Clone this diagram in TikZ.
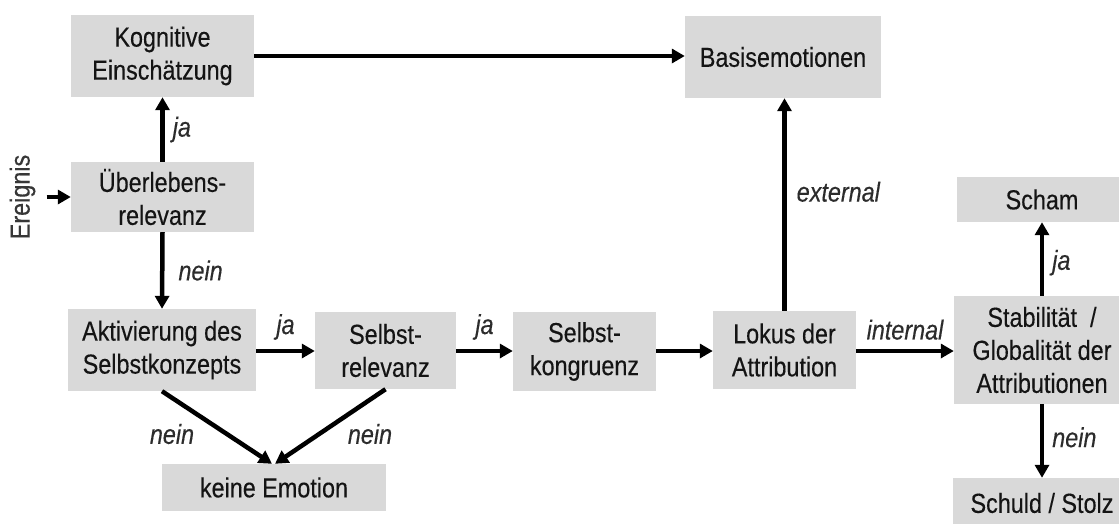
\documentclass[tikz,border=0pt]{standalone}
\usepackage{fontspec}
\setmainfont{Liberation Sans}[FakeStretch=0.85,FakeBold=0.3]
\usetikzlibrary{arrows.meta}
\definecolor{boxgray}{RGB}{217,217,217}
\definecolor{ink}{RGB}{20,20,20}
\begin{document}
\begin{tikzpicture}[x=1pt,y=-1pt,
  box/.style={fill=boxgray, draw=none, inner sep=0pt, align=center, text=ink,
    font=\fontsize{27.5}{33}\selectfont},
  arr/.style={line width=4.5pt, draw=black, -{Triangle[length=13pt,width=14pt]}},
  lab/.style={font=\fontsize{27.5}{33}\selectfont\itshape, inner sep=0pt, text=ink!90}]
\clip (0,0) rectangle (1119,523);
\useasboundingbox (0,0) rectangle (1119,523);

% boxes
\node[box, minimum width=183pt, minimum height=82pt] (kog) at (162.5,56) {Kognitive\\Einschätzung};
\node[box, minimum width=183pt, minimum height=70pt] (ueb) at (162.5,197) {Überlebens-\\relevanz};
\node[box, minimum width=188pt, minimum height=82pt] (akt) at (162,350) {Aktivierung des\\Selbstkonzepts};
\node[box, minimum width=141pt, minimum height=77pt] (srel) at (385.5,350.5) {Selbst-\\relevanz};
\node[box, minimum width=143pt, minimum height=79pt] (skon) at (584.5,351.5) {Selbst-\\kongruenz};
\node[box, minimum width=143pt, minimum height=78pt] (lok) at (784.5,350) {Lokus der\\Attribution};
\node[box, minimum width=176pt, minimum height=108pt] (stab) at (1042,350) {Stabilität\ \ /\\Globalität der\\Attributionen};
\node[box, minimum width=170pt, minimum height=45pt] (scham) at (1042,199.5) {Scham};
\node[box, minimum width=178pt, minimum height=50pt] (schuld) at (1042,503) {Schuld / Stolz};
\node[box, minimum width=196pt, minimum height=82pt] (basis) at (783,57) {Basisemotionen};
\node[box, minimum width=224pt, minimum height=47pt] (keine) at (274,487.5) {keine Emotion};

% event
\node[box, fill=none, text=ink!85, rotate=90] (ereig) at (22.5,197) {Ereignis};

% connectors
\draw[arr, shorten <=11pt] (ereig.south) -- (ereig.south -| ueb.west);
\draw[arr] (kog.east) -- (kog.east -| basis.west);
\draw[arr] (ueb.north) -- (kog.south) node[lab, pos=0.5, right=8pt] {ja};
\draw[arr] (ueb.south) -- (akt.north) node[lab, pos=0.5, right=14pt] {nein};
\draw[arr] (akt.east |- 0,351) -- (srel.west |- 0,351) node[lab, pos=0.5, above=9pt] {ja};
\draw[arr] (srel.east |- 0,351) -- (skon.west |- 0,351) node[lab, pos=0.5, above=9pt] {ja};
\draw[arr] (skon.east |- 0,351) -- (lok.west |- 0,351);
\draw[arr] (lok.east |- 0,351) -- (stab.west |- 0,351) node[lab, pos=0.5, above=9pt] {internal};
\draw[arr] (lok.north) -- (lok.north |- basis.south) node[lab, pos=0.56, right=10pt] {external};
\draw[arr] (stab.north) -- (scham.south) node[lab, pos=0.45, right=8pt] {ja};
\draw[arr] (stab.south) -- (schuld.north) node[lab, pos=0.45, right=8pt] {nein};
\draw[arr] (akt.south) -- ([xshift=-2pt]keine.north);
\draw[arr] (srel.south) -- ([xshift=1pt]keine.north);
\node[lab] (n1) at (172,434) {nein};
\node[lab] (n2) at (370,434) {nein};
\end{tikzpicture}
\end{document}
